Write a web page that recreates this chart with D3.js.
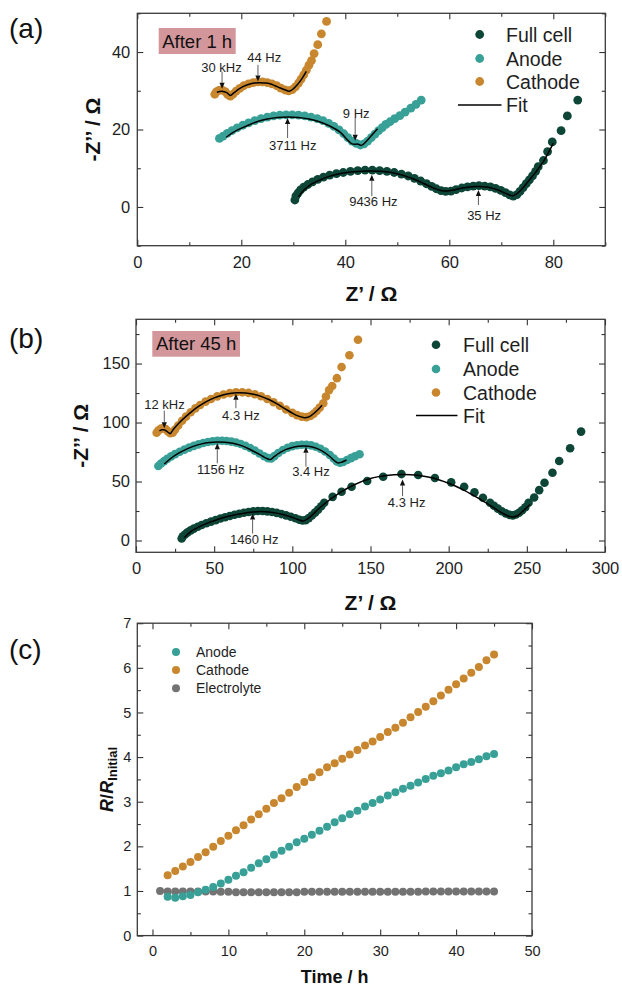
<!DOCTYPE html>
<html><head><meta charset="utf-8">
<script src="https://cdn.jsdelivr.net/npm/d3@7"></script>
<style>body{margin:0;background:#fff;} svg text{font-family:"Liberation Sans",Arial,sans-serif;}</style>
</head><body>
<svg id="chart" width="622" height="986"></svg>
<script>
// ---------------- DATA ----------------
// Panel (a): After 1 h  [Z', -Z'']
const a_full = [[30.3,1.8],[30.5,2.8],[30.9,3.6],[31.4,4.4],[32.0,5.1],[32.8,5.8],[33.7,6.5],[34.7,7.1],[35.8,7.7],[37.0,8.2],[38.3,8.6],[39.6,8.9],[41.0,9.2],[42.4,9.4],[43.8,9.5],[45.2,9.5],[46.6,9.4],[48.0,9.2],[49.4,8.9],[50.8,8.5],[52.1,8.0],[53.3,7.4],[54.5,6.7],[55.6,6.0],[56.6,5.3],[57.5,4.7],[58.4,4.2],[59.3,4.0],[60.3,4.1],[61.3,4.5],[62.4,4.9],[63.5,5.2],[64.6,5.4],[65.7,5.5],[66.8,5.4],[67.9,5.2],[68.9,4.8],[69.9,4.3],[70.8,3.7],[71.6,3.1],[72.3,2.8],[73.0,3.2],[73.6,4.0],[74.2,5.0],[74.8,6.0],[75.4,7.0],[76.0,8.0],[76.6,9.2],[77.1,10.4],[78.1,12.0],[78.9,14.3],[79.8,16.8],[81.5,19.7],[82.7,23.5],[84.7,27.6]];
const a_anode = [[15.8,17.7],[16.5,18.3],[17.3,19.0],[18.2,19.7],[19.2,20.4],[20.3,21.1],[21.4,21.7],[22.6,22.3],[23.8,22.8],[25.0,23.2],[26.2,23.5],[27.4,23.7],[28.6,23.8],[29.8,23.8],[31.0,23.7],[32.2,23.5],[33.4,23.2],[34.6,22.8],[35.7,22.3],[36.8,21.6],[37.8,20.8],[38.8,19.9],[39.7,18.9],[40.5,17.9],[41.3,17.0],[42.1,16.4],[42.9,16.0],[43.6,16.3],[44.3,17.0],[45.0,17.9],[45.7,18.8],[46.4,19.7],[47.1,20.5],[47.8,21.3],[48.6,22.0],[49.5,22.8],[50.5,23.6],[51.5,24.5],[52.6,25.5],[53.6,26.5],[54.6,27.6]];
const a_cathode = [[14.9,29.1],[15.2,29.7],[15.7,30.1],[16.3,30.2],[16.9,29.8],[17.4,29.0],[17.9,28.6],[18.4,29.1],[19.0,29.9],[19.7,30.6],[20.5,31.3],[21.4,31.8],[22.3,32.1],[23.2,32.3],[24.1,32.3],[25.0,32.1],[25.9,31.8],[26.8,31.3],[27.6,30.7],[28.4,30.2],[29.1,30.0],[29.8,30.3],[30.4,31.0],[31.0,32.0],[31.5,33.0],[32.0,34.1],[32.5,35.3],[33.0,36.6],[33.5,37.8],[34.0,39.6],[34.7,41.9],[35.4,44.7],[36.4,47.9]];
const a_fit_full = [[31.0,2.6],[32.0,4.3],[33.5,5.9],[35.5,7.2],[38.0,8.3],[41.0,9.0],[44.0,9.3],[47.0,9.2],[50.0,8.6],[53.0,7.3],[55.5,5.8],[57.5,4.6],[59.0,4.1],[60.5,4.3],[62.5,4.9],[65.0,5.3],[67.5,5.1],[69.5,4.3],[71.0,3.4],[72.3,2.9],[73.5,4.0],[75.0,6.3],[76.5,8.8],[78.0,11.5],[80.0,16.5]];
const a_fit_anode = [[17.1,18.0],[19.0,19.7],[21.0,20.9],[23.0,22.0],[25.0,22.7],[27.0,23.1],[29.0,23.2],[31.0,23.1],[33.0,22.7],[35.0,22.0],[37.0,20.9],[39.0,19.3],[40.5,17.2],[41.3,16.3],[42.5,16.2],[43.1,15.9],[44.0,16.9],[45.0,18.4],[46.2,20.2]];
const a_fit_cathode = [[15.3,29.6],[16.3,29.9],[17.2,29.5],[17.9,28.8],[18.6,29.5],[19.5,30.4],[20.5,31.2],[21.5,31.7],[22.5,32.0],[23.5,32.1],[24.5,32.0],[25.5,31.8],[26.5,31.3],[27.5,30.7],[28.5,30.2],[29.2,29.9],[30.0,30.5],[30.8,31.6],[31.6,33.0],[32.5,35.0]];
const a_notes = [
  {t:"30 kHz", x:16.3, tail:34.9, tip:30.5, tx:16.2, ty:36.0},
  {t:"44 Hz",  x:23.2, tail:36.7, tip:32.4, tx:24.4, ty:38.5},
  {t:"9 Hz",   x:41.9, tail:23.0, tip:17.1, tx:42.1, ty:24.2},
  {t:"3711 Hz",x:28.9, tail:17.8, tip:23.0, tx:29.9, ty:15.9},
  {t:"9436 Hz",x:45.1, tail:2.8,  tip:8.3,  tx:45.4, ty:1.4},
  {t:"35 Hz",  x:65.6, tail:0.5,  tip:4.4,  tx:66.7, ty:-2.1}
];

// Panel (b): After 45 h
const b_full = [[29.2,1.7],[30.0,3.5],[31.5,5.3],[33.0,6.9],[35.0,8.6],[37.0,10.1],[39.5,11.7],[42.0,13.1],[45.0,14.6],[48.0,16.0],[51.0,17.3],[54.0,18.6],[57.0,19.7],[60.0,20.8],[63.0,21.8],[66.0,22.7],[69.0,23.5],[72.0,24.2],[75.0,24.7],[78.0,25.0],[81.0,25.0],[84.0,24.7],[87.0,24.2],[90.0,23.4],[93.0,22.4],[96.0,21.3],[99.0,20.1],[102.0,18.8],[104.5,17.6],[106.5,16.9],[108.5,17.3],[110.5,19.0],[112.5,21.2],[114.5,23.6],[116.5,26.2],[118.5,29.0],[120.4,32.0],[125.8,37.0],[131.5,41.3],[137.9,45.5],[147.9,50.4],[158.1,54.0],[169.8,56.3],[180.5,55.5],[191.2,53.0],[201.6,49.3],[209.9,45.5],[216.5,40.8],[221.9,36.2],[226.5,32.0],[229.0,29.5],[231.5,27.0],[234.0,24.8],[236.5,23.0],[239.0,21.7],[241.0,21.3],[243.0,22.0],[245.0,23.5],[247.0,25.6],[249.0,28.2],[251.1,32.0],[254.7,36.5],[257.9,42.7],[261.3,48.9],[266.4,57.4],[270.7,67.4],[277.7,78.2],[284.7,92.3]];
const b_anode = [[14.3,63.1],[16.0,65.2],[18.0,67.3],[20.0,69.2],[22.5,71.3],[25.0,73.2],[28.0,75.2],[31.0,77.0],[34.0,78.7],[37.0,80.2],[40.0,81.5],[43.0,82.6],[46.0,83.5],[49.0,84.1],[52.0,84.5],[55.0,84.6],[58.0,84.3],[61.0,83.8],[64.0,83.0],[67.0,81.8],[70.0,80.2],[73.0,78.4],[76.0,76.2],[79.0,73.8],[82.0,71.4],[84.5,69.8],[86.5,69.6],[88.5,71.5],[91.0,74.2],[94.0,76.7],[97.0,78.6],[100.0,80.0],[103.0,80.8],[106.0,81.2],[109.0,81.2],[112.0,80.6],[115.0,79.5],[118.0,77.8],[121.0,75.5],[124.0,72.5],[126.5,69.5],[128.5,67.0],[130.5,66.0],[132.5,66.6],[135.0,68.3],[137.5,69.8],[140.0,71.4],[143.0,73.1]];
const b_cathode = [[13.2,91.4],[14.5,93.5],[16.0,94.8],[17.5,95.2],[19.0,94.4],[20.5,92.5],[22.0,91.0],[23.5,91.3],[25.0,94.0],[27.0,97.5],[29.5,101.5],[32.0,105.0],[35.0,108.7],[38.0,112.0],[41.0,114.9],[44.5,117.7],[48.0,120.0],[52.0,122.2],[56.0,123.8],[60.0,124.9],[64.0,125.6],[68.0,125.6],[72.0,125.1],[76.0,124.0],[80.0,122.3],[84.0,120.0],[88.0,117.2],[92.0,114.2],[96.0,111.1],[100.0,108.2],[103.0,106.3],[106.0,105.0],[109.0,104.6],[111.5,105.5],[113.5,107.3],[115.5,109.8],[117.5,112.6],[119.8,116.4],[121.5,122.0],[123.5,127.5],[125.5,131.0],[128.5,137.6],[131.5,147.0],[136.5,157.0],[142.0,170.2]];
const b_fit_full = [[31,2.5],[35,7.6],[40,11.3],[45,14.3],[50,16.8],[55,19.0],[60,20.8],[65,22.3],[70,23.4],[75,24.2],[80,24.5],[85,24.2],[90,23.2],[95,21.6],[100,19.6],[104,17.6],[107,16.5],[110,18.5],[115,24.5],[120,30.5],[130,40.2],[140,47.5],[150,52.5],[160,55.0],[170,56.0],[180,55.4],[190,53.0],[200,48.5],[210,42.5],[220,35.0],[228,28.5],[234,23.5],[238,20.8],[241,20.0],[244,21.0],[248,25.5],[252,30.5]];
const b_fit_anode = [[18.1,64.8],[22,69.3],[27,73.8],[32,77.3],[37,80.0],[42,81.9],[47,83.0],[52,83.5],[57,83.3],[62,82.4],[67,80.6],[72,77.8],[77,74.4],[81,71.4],[84,69.3],[86,68.6],[88,70.6],[92,74.4],[96,77.2],[100,78.9],[104,79.8],[108,80.0],[112,79.5],[116,77.9],[120,75.2],[124,71.2],[127,67.6],[129,65.8],[131.5,66.4],[134.7,68.2]];
const b_fit_cathode = [[15,93],[16.5,93.9],[18,93.8],[19.5,92.7],[21,91.2],[22,90.6],[23,92.5],[25,96.0],[28,100.3],[32,105.2],[36,109.7],[40,113.6],[45,117.7],[50,120.9],[55,123.2],[60,124.6],[65,125.2],[70,125.0],[75,124.0],[80,122.2],[85,119.5],[90,116.0],[95,112.0],[100,108.0],[104,105.4],[107,104.3],[109,104.2],[111,105.0],[114,108.0],[117,111.6],[119,114.6]];
const b_notes = [
  {t:"12 kHz", x:18.1,  tail:110.1, tip:95.2,  tx:18.2,  ty:115.0},
  {t:"4.3 Hz", x:63.9,  tail:112.1, tip:124.3, tx:67.1,  ty:105.9},
  {t:"1156 Hz",x:52.0,  tail:65.4,  tip:82.4,  tx:54.2,  ty:60.6},
  {t:"3.4 Hz", x:108.7, tail:62.5,  tip:79.5,  tx:111.9, ty:58.3},
  {t:"1460 Hz",x:74.6,  tail:5.9,   tip:22.9,  tx:75.6,  ty:0.8},
  {t:"4.3 Hz", x:170.5, tail:37.6,  tip:51.8,  tx:173.1, ty:32.3}
];

// Panel (c): R/R_initial vs time
const c_timeEl = [1,2,3,4,5,6,7,8,9,10,11,12,13,14,15,16,17,18,19,20,21,22,23,24,25,26,27,28,29,30,31,32,33,34,35,36,37,38,39,40,41,42,43,44,45];
const c_time = [2,3,4,5,6,7,8,9,10,11,12,13,14,15,16,17,18,19,20,21,22,23,24,25,26,27,28,29,30,31,32,33,34,35,36,37,38,39,40,41,42,43,44,45];
const c_anode = [0.87,0.85,0.88,0.91,0.97,1.03,1.09,1.17,1.25,1.34,1.42,1.52,1.62,1.71,1.81,1.90,1.99,2.09,2.17,2.26,2.35,2.44,2.54,2.63,2.72,2.80,2.89,2.97,3.05,3.14,3.21,3.29,3.36,3.43,3.51,3.58,3.64,3.70,3.77,3.84,3.89,3.95,4.02,4.07];
const c_cathode = [1.35,1.45,1.55,1.65,1.76,1.87,1.99,2.12,2.24,2.36,2.47,2.60,2.72,2.84,2.97,3.08,3.20,3.33,3.44,3.55,3.66,3.77,3.86,3.96,4.06,4.16,4.26,4.35,4.45,4.56,4.66,4.77,4.89,5.01,5.13,5.25,5.38,5.51,5.63,5.76,5.89,6.02,6.17,6.30];
const c_electrolyte = [1.00,0.99,0.99,0.99,0.99,0.99,0.99,0.99,0.98,0.98,0.97,0.97,0.97,0.97,0.97,0.97,0.97,0.97,0.97,0.98,0.98,0.98,0.98,0.98,0.98,0.98,0.98,0.98,0.98,0.98,0.98,0.98,0.98,0.98,0.98,0.99,0.99,0.99,0.99,0.99,0.99,0.99,0.99,0.99,0.99];

const legendNyq = ["Full cell","Anode","Cathode","Fit"];
const legendC = ["Anode","Cathode","Electrolyte"];

// ---------------- DRAWING ----------------
const FONT = '"Liberation Sans", Arial, sans-serif';
const COL = {full:"#0d4636", anode:"#38a096", cathode:"#c8872e", elec:"#737373"};
const INK = "#1e1e1e";
const svg = d3.select("#chart");

function drawAxes(g, x, y, o) {
  const [x0,x1] = x.range(), [y0,y1] = y.range();
  const style = (sel) => {
    sel.select(".domain").remove();
    sel.selectAll(".tick line").attr("stroke","#333").attr("stroke-width",1.1);
    sel.selectAll(".tick text").attr("fill",INK);
    sel.attr("font-size",o.fs).attr("font-family",FONT);
  };
  g.append("g").attr("transform",`translate(0,${y0})`)
    .call(d3.axisBottom(x).tickValues(o.xMajor).tickSize(-6).tickPadding(o.xPad).tickFormat(d3.format("d"))).call(style);
  g.append("g").attr("transform",`translate(0,${y0})`)
    .call(d3.axisBottom(x).tickValues(o.xMinor).tickSize(-3.5).tickFormat("")).call(style);
  g.append("g").attr("transform",`translate(0,${y1})`)
    .call(d3.axisTop(x).tickValues(o.xMajor).tickSize(-6).tickFormat("")).call(style);
  g.append("g").attr("transform",`translate(0,${y1})`)
    .call(d3.axisTop(x).tickValues(o.xMinor).tickSize(-3.5).tickFormat("")).call(style);
  g.append("g").attr("transform",`translate(${x0},0)`)
    .call(d3.axisLeft(y).tickValues(o.yMajor).tickSize(-6).tickPadding(o.yPad).tickFormat(d3.format("d"))).call(style);
  g.append("g").attr("transform",`translate(${x0},0)`)
    .call(d3.axisLeft(y).tickValues(o.yMinor).tickSize(-3.5).tickFormat("")).call(style);
  g.append("g").attr("transform",`translate(${x1},0)`)
    .call(d3.axisRight(y).tickValues(o.yMajor).tickSize(-6).tickFormat("")).call(style);
  g.append("g").attr("transform",`translate(${x1},0)`)
    .call(d3.axisRight(y).tickValues(o.yMinor).tickSize(-3.5).tickFormat("")).call(style);
  g.append("rect").attr("x",x0).attr("y",y1).attr("width",x1-x0).attr("height",y0-y1)
    .attr("fill","none").attr("stroke","#3a3a3a").attr("stroke-width",1.3);
}

function drawNyquist(cfg) {
  const g = svg.append("g");
  const x = d3.scaleLinear().domain(cfg.xd).range(cfg.xr);
  const y = d3.scaleLinear().domain(cfg.yd).range(cfg.yr);
  drawAxes(g, x, y, cfg.ax);
  const series = [[cfg.full,COL.full],[cfg.anode,COL.anode],[cfg.cathode,COL.cathode]];
  series.forEach(([d,c]) => {
    g.append("g").selectAll("circle").data(d).join("circle")
      .attr("cx",p=>x(p[0])).attr("cy",p=>y(p[1])).attr("r",cfg.r).attr("fill",c);
  });
  const line = d3.line().x(p=>x(p[0])).y(p=>y(p[1])).curve(d3.curveCatmullRom.alpha(0.5));
  [cfg.fitFull,cfg.fitAnode,cfg.fitCathode].forEach(d => {
    g.append("path").attr("d",line(d)).attr("fill","none").attr("stroke","#000").attr("stroke-width",1.5);
  });
  // annotations
  cfg.notes.forEach(n => {
    const px = x(n.x), pTip = y(n.tip), pTail = y(n.tail);
    const dir = pTip > pTail ? 1 : -1;
    const hl = 6, hw = 2.6;
    g.append("line").attr("x1",px).attr("x2",px).attr("y1",pTail).attr("y2",pTip - dir*hl)
      .attr("stroke","#333").attr("stroke-width",0.8);
    g.append("path").attr("d",`M${px},${pTip}L${px-hw},${pTip-dir*hl}L${px+hw},${pTip-dir*hl}Z`).attr("fill","#111");
    g.append("text").attr("x",x(n.tx)).attr("y",y(n.ty)).attr("text-anchor","middle")
      .attr("dominant-baseline","central").attr("font-size",13).attr("fill",INK).text(n.t);
  });
  // tag box
  const tb = cfg.tag;
  g.append("rect").attr("x",tb.x).attr("y",tb.y).attr("width",tb.w).attr("height",tb.h).attr("fill","#d3979b");
  g.append("text").attr("x",tb.x+tb.w/2).attr("y",tb.y+tb.h/2).attr("text-anchor","middle")
    .attr("dominant-baseline","central").attr("font-size",18.5).attr("fill","#111").text(tb.text);
  // legend
  const L = cfg.leg;
  const lc = [COL.full,COL.anode,COL.cathode];
  legendNyq.forEach((name,i) => {
    const yy = L.y[i];
    if (i < 3) g.append("circle").attr("cx",L.mx).attr("cy",yy).attr("r",cfg.r).attr("fill",lc[i]);
    else g.append("line").attr("x1",L.lx0).attr("x2",L.lx1).attr("y1",yy).attr("y2",yy).attr("stroke","#000").attr("stroke-width",1.6);
    g.append("text").attr("x",L.tx).attr("y",yy).attr("dominant-baseline","central")
      .attr("font-size",19.5).attr("fill",INK).text(name);
  });
  // axis titles
  const [x0,x1] = x.range(), [y0,y1] = y.range();
  g.append("text").attr("x",(x0+x1)/2).attr("y",cfg.xtY).attr("text-anchor","middle")
    .attr("font-size",21).attr("font-weight","bold").attr("fill","#111").text("Z\u2019 / \u03A9");
  g.append("text").attr("transform",`translate(${cfg.ytX},${(y0+y1)/2}) rotate(-90)`).attr("text-anchor","middle")
    .attr("font-size",21).attr("font-weight","bold").attr("fill","#111").text("-Z\u2019\u2019 / \u03A9");
  g.append("text").attr("x",9).attr("y",cfg.labY).attr("font-size",28).attr("fill","#111").text(cfg.label);
}

drawNyquist({
  xd:[0,90], xr:[137.3,605.3], yd:[-10,50], yr:[245.7,13.3], r:4.4,
  ax:{xMajor:[0,20,40,60,80], xMinor:[10,30,50,70,90], yMajor:[0,20,40], yMinor:[-10,10,30,50], fs:16.5, xPad:11, yPad:7},
  full:a_full, anode:a_anode, cathode:a_cathode,
  fitFull:a_fit_full, fitAnode:a_fit_anode, fitCathode:a_fit_cathode, notes:a_notes,
  tag:{x:158.7, y:28, w:77, h:26, text:"After 1 h"},
  leg:{mx:479.7, y:[34.5,58.5,81.5,105], lx0:458, lx1:501.5, tx:506},
  xtY:301, ytX:100, labY:38, label:"(a)"
});
drawNyquist({
  xd:[0,300], xr:[136,605], yd:[-10,187.5], yr:[552.3,319.3], r:4.3,
  ax:{xMajor:[0,50,100,150,200,250,300], xMinor:[25,75,125,175,225,275], yMajor:[0,50,100,150], yMinor:[25,75,125,175], fs:16.5, xPad:10, yPad:6},
  full:b_full, anode:b_anode, cathode:b_cathode,
  fitFull:b_fit_full, fitAnode:b_fit_anode, fitCathode:b_fit_cathode, notes:b_notes,
  tag:{x:152.3, y:331, w:87.7, h:25.7, text:"After 45 h"},
  leg:{mx:436, y:[344.7,369,392.5,415.5], lx0:416, lx1:457.5, tx:463},
  xtY:610, ytX:88, labY:348, label:"(b)"
});

// Panel (c)
(function(){
  const g = svg.append("g");
  const x = d3.scaleLinear().domain([-2,50]).range([137.3,532]);
  const y = d3.scaleLinear().domain([0,7]).range([935.6,623.2]);
  drawAxes(g, x, y, {xMajor:[0,10,20,30,40,50], xMinor:[5,15,25,35,45], yMajor:[0,1,2,3,4,5,6,7],
    yMinor:[0.5,1.5,2.5,3.5,4.5,5.5,6.5], fs:14.5, xPad:10, yPad:6});
  const r = 4;
  const el = c_timeEl.map((t,i)=>[t,c_electrolyte[i]]);
  const an = c_time.map((t,i)=>[t,c_anode[i]]);
  const ca = c_time.map((t,i)=>[t,c_cathode[i]]);
  [[el,COL.elec],[an,COL.anode],[ca,COL.cathode]].forEach(([d,c]) => {
    g.append("g").selectAll("circle").data(d).join("circle")
      .attr("cx",p=>x(p[0])).attr("cy",p=>y(p[1])).attr("r",r).attr("fill",c);
  });
  const lcol = [COL.anode,COL.cathode,COL.elec];
  const ly = [652,670,688.3];
  legendC.forEach((name,i) => {
    g.append("circle").attr("cx",176).attr("cy",ly[i]).attr("r",r).attr("fill",lcol[i]);
    g.append("text").attr("x",196).attr("y",ly[i]).attr("dominant-baseline","central")
      .attr("font-size",14).attr("fill",INK).text(name);
  });
  g.append("text").attr("x",(137.3+532)/2).attr("y",983).attr("text-anchor","middle")
    .attr("font-size",18).attr("font-weight","bold").attr("fill","#111").text("Time / h");
  const yt = g.append("text").attr("transform",`translate(113,${(935.6+623.2)/2}) rotate(-90)`)
    .attr("text-anchor","middle").attr("font-size",18).attr("font-weight","bold").attr("fill","#111");
  yt.append("tspan").attr("font-style","italic").text("R");
  yt.append("tspan").text("/");
  yt.append("tspan").attr("font-style","italic").text("R");
  yt.append("tspan").attr("font-size",13).attr("dy",4).text("Initial");
  g.append("text").attr("x",9).attr("y",659).attr("font-size",28).attr("fill","#111").text("(c)");
})();
</script>
</body></html>
